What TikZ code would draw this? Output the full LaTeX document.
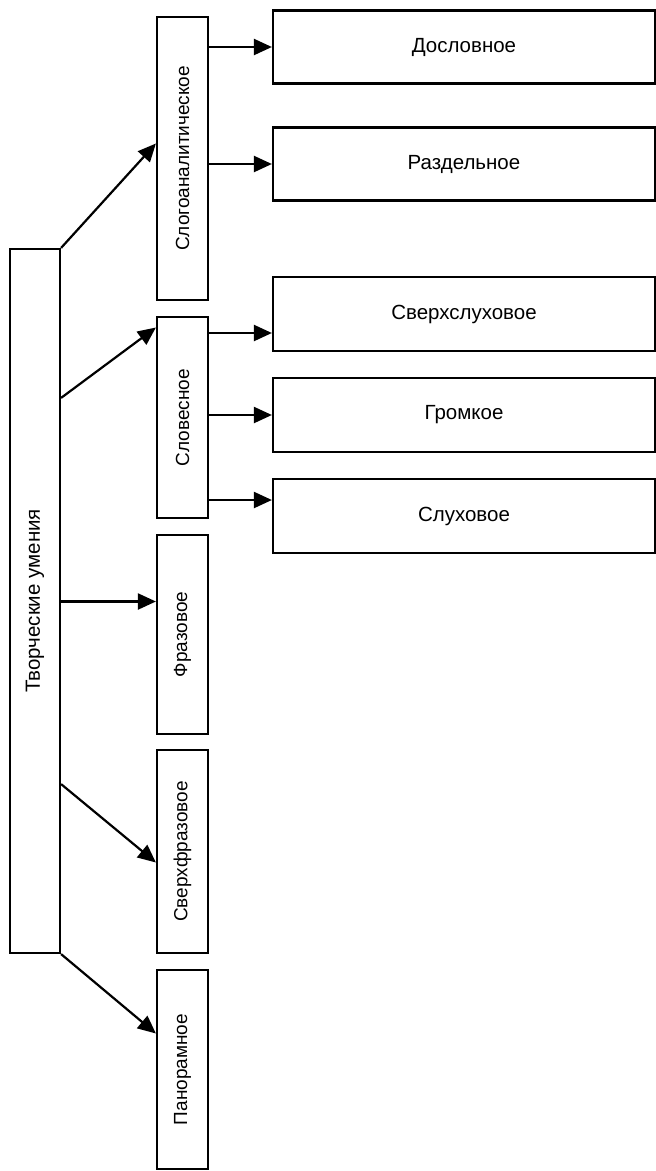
\documentclass[tikz,border=0pt]{standalone}
\usepackage{fontspec}
\setmainfont{Liberation Sans}
\usetikzlibrary{arrows.meta,calc}

\tikzset{
  hbox/.style={draw,line width=2.2pt,inner sep=0pt,minimum width=382pt,minimum height=73pt,font=\fontsize{20.5}{24}\selectfont},
  vbox/.style={draw,line width=2.2pt,inner sep=0pt,minimum width=51pt,font=\fontsize{19}{22}\selectfont},
  arr/.style={line width=2.2pt,-{Triangle[length=18pt,width=16pt]}}
}

\begin{document}
\begin{tikzpicture}[x=1pt,y=-1pt]
  \useasboundingbox (0,0) rectangle (656,1171);
  % root
  \node[vbox,minimum width=50pt,minimum height=704pt,font=\fontsize{20.5}{24}\selectfont] (tvor) at (35,601) {\rotatebox{90}{Творческие умения}};
  % second level
  \node[vbox,minimum height=283pt] (slog) at (182.5,158.5) {\rotatebox{90}{Слогоаналитическое}};
  \node[vbox,minimum height=201pt] (slov) at (182.5,417.5) {\rotatebox{90}{Словесное}};
  \node[vbox,minimum height=199pt] (fraz) at (182.5,634.5) {\rotatebox{90}{Фразовое}};
  \node[vbox,minimum height=203pt] (sfraz) at (182.5,851.5) {\rotatebox{90}{Сверхфразовое}};
  \node[vbox,minimum height=199pt] (panor) at (182.5,1069.5) {\rotatebox{90}{Панорамное}};
  % third level
  \node[hbox] (doslov) at (464,47) {Дословное};
  \node[hbox] (razdel) at (464,164) {Раздельное};
  \node[hbox,minimum height=74pt] (sverh) at (464,314) {Сверхслуховое};
  \node[hbox,minimum height=74pt] (gromk) at (464,415) {Громкое};
  \node[hbox,minimum height=74pt] (sluh) at (464,516) {Слуховое};

  \path[arr]
     (tvor.north east) edge ([yshift=15pt]slog.west)
     ([yshift=-150pt]tvor.north east) edge ([yshift=90pt]slov.west)
     ([yshift=33pt]tvor.east |- fraz.west) edge ([yshift=33pt]fraz.west)
     ([yshift=170pt]tvor.south east) edge ([yshift=-11pt]sfraz.west)
     (tvor.south east) edge ([yshift=36pt]panor.west);
%     (tvor.south east) edge (panor)
  \path[arr]
     (slog.east |- doslov) edge (doslov)
     (slog.east |- razdel) edge (razdel)
     ([yshift=-19pt]slov.east |- sverh.west) edge ([yshift=-19pt]sverh.west)
     (slov.east |- gromk) edge (gromk)
     ([yshift=16pt]slov.east |- sluh.west) edge ([yshift=16pt]sluh.west);
\end{tikzpicture}
\end{document}
